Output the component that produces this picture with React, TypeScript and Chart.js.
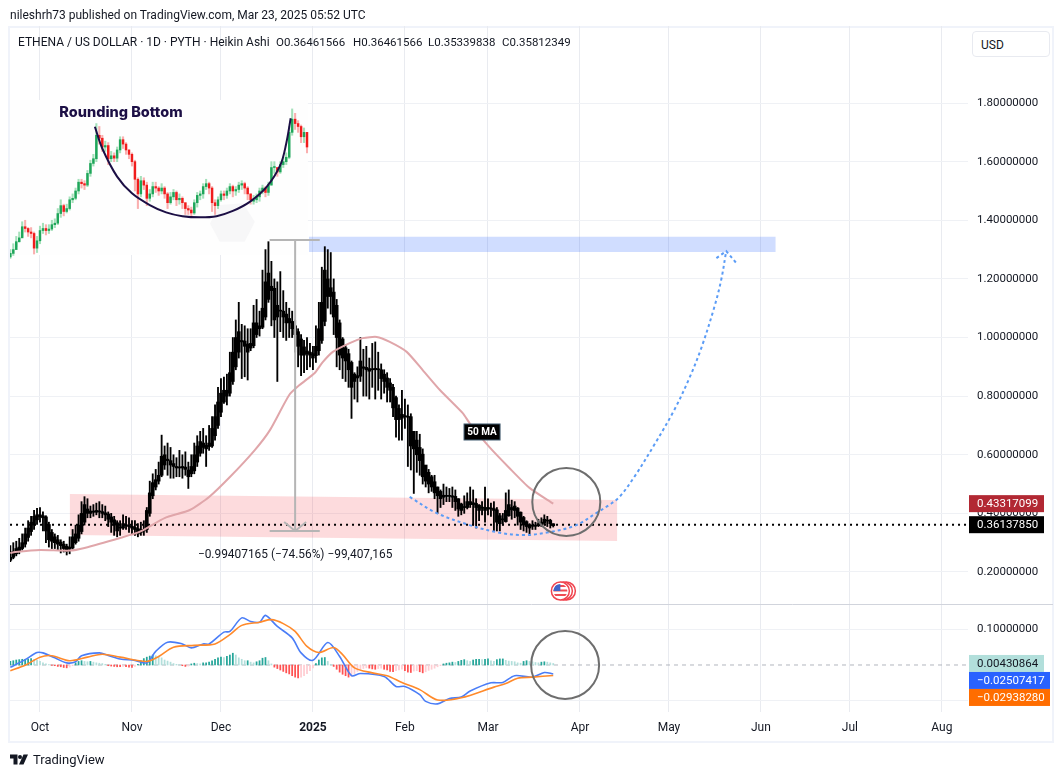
import { useEffect, useRef } from 'react';
import Chart from 'chart.js/auto';

// x values are days counted from 1 Oct 2024, the last candle is 23 Mar 2025
const monthDays = [0, 31, 61, 92, 123, 151, 182, 212, 243, 273, 304];
const monthLabels = ['Oct', 'Nov', 'Dec', '2025', 'Feb', 'Mar', 'Apr', 'May', 'Jun', 'Jul', 'Aug'];
const priceTicks = [0.2, 0.4, 0.6, 0.8, 1, 1.2, 1.4, 1.6, 1.8];
const macdTicks = [-0.1, 0.1];
const firstDay = -10;

const candleOpen = [
  .240, .250, .262, .272, .280, .295, .318, .338, .360, .378,
  .388, .392, .388, .362, .335, .320, .310, .302, .295, .288,
  .278, .282, .300, .315, .338, .370, .400, .408, .404, .404,
  .408, .406, .402, .398, .388, .378, .368, .352, .350, .358,
  .358, .356, .352, .348, .335, .340, .345, .400, .460, .490,
  .510, .530, .565, .580, .580, .570, .560, .555, .555, .558,
  .548, .535, .545, .575, .605, .625, .632, .628, .630, .665,
  .700, .745, .780, .800, .810, .850, .900, .950, .985, .988,
  .978, .964, .972, 1.010, 1.030, 1.035, 1.070, 1.130, 1.175, 1.168,
  1.110, 1.090, 1.090, 1.080, 1.065, 1.055, 1.040, 1.020, .995, .968,
  .954, .950, .945, .938, .955, .990, 1.055, 1.140, 1.170, 1.155,
  1.110, 1.050, .995, .965, .945, .915, .875, .862, .868, .895,
  .898, .894, .890, .890, .892, .890, .875, .862, .845, .830,
  .795, .758, .738, .730, .728, .730, .680, .650, .625, .602,
  .565, .540, .525, .508, .490, .475, .462, .458, .458, .460,
  .458, .450, .432, .422, .420, .430, .436, .434, .428, .418,
  .420, .415, .416, .416, .412, .392, .378, .372, .392, .412,
  .425, .418, .404, .386, .372, .362, .356, .356, .358, .362,
  .366, .374, .376, .3646,
];
const candleClose = [
  .250, .270, .280, .285, .300, .330, .350, .370, .390, .395,
  .395, .385, .340, .310, .305, .300, .295, .290, .280, .270,
  .285, .320, .330, .360, .400, .430, .415, .400, .405, .410,
  .405, .400, .395, .380, .370, .360, .340, .350, .365, .360,
  .355, .350, .345, .330, .345, .345, .410, .470, .505, .515,
  .530, .595, .600, .585, .565, .560, .555, .555, .560, .550,
  .525, .560, .600, .630, .645, .640, .620, .640, .690, .730,
  .780, .810, .820, .820, .880, .950, 1.000, 1.020, .990, .970,
  .950, .980, 1.050, 1.050, 1.040, 1.100, 1.190, 1.220, 1.160, 1.060,
  1.070, 1.090, 1.070, 1.050, 1.050, 1.030, 1.010, .970, .940, .940,
  .945, .940, .930, .970, 1.030, 1.120, 1.230, 1.200, 1.140, 1.070,
  1.000, .940, .930, .920, .890, .830, .850, .870, .920, .900,
  .890, .885, .890, .895, .890, .860, .850, .830, .820, .760,
  .720, .720, .725, .730, .730, .630, .620, .600, .580, .525,
  .510, .500, .490, .470, .460, .450, .455, .460, .460, .455,
  .440, .415, .410, .420, .440, .440, .430, .420, .410, .420,
  .410, .420, .415, .410, .370, .365, .380, .410, .430, .420,
  .410, .390, .370, .360, .355, .350, .360, .360, .365, .370,
  .380, .375, .365, .3581,
];
const candleHigh = [
  .290, .300, .305, .315, .330, .350, .375, .390, .410, .417,
  .420, .405, .392, .370, .345, .330, .325, .310, .305, .295,
  .320, .345, .360, .395, .440, .457, .450, .425, .430, .435,
  .440, .430, .425, .405, .400, .390, .375, .375, .395, .390,
  .385, .375, .375, .365, .370, .375, .420, .510, .535, .550,
  .575, .667, .630, .640, .625, .600, .590, .615, .600, .610,
  .575, .600, .640, .665, .680, .690, .665, .700, .730, .770,
  .830, .860, .865, .875, .950, 1.000, 1.060, 1.120, 1.045, 1.040,
  1.030, 1.030, 1.110, 1.130, 1.090, 1.230, 1.300, 1.327, 1.260, 1.200,
  1.190, 1.225, 1.160, 1.120, 1.100, 1.090, 1.060, 1.030, 1.010, .990,
  1.000, .980, .970, 1.040, 1.120, 1.240, 1.310, 1.300, 1.290, 1.200,
  1.130, 1.060, 1.000, .975, .960, .920, .880, .900, 1.000, .960,
  .970, .930, .980, .985, .950, .910, .890, .880, .860, .840,
  .800, .770, .820, .790, .770, .740, .680, .680, .670, .620,
  .560, .550, .530, .530, .490, .480, .500, .490, .485, .490,
  .480, .450, .435, .460, .470, .490, .480, .450, .430, .440,
  .490, .450, .435, .440, .420, .400, .400, .470, .480, .445,
  .440, .420, .405, .390, .375, .365, .375, .370, .380, .385,
  .395, .390, .380, .3646,
];
const candleLow = [
  .235, .245, .255, .262, .275, .285, .305, .325, .345, .362,
  .370, .340, .300, .285, .280, .280, .275, .265, .268, .258,
  .262, .278, .295, .305, .330, .360, .385, .385, .390, .395,
  .385, .385, .375, .355, .335, .325, .320, .325, .345, .345,
  .335, .330, .325, .320, .325, .325, .335, .390, .450, .480,
  .500, .525, .550, .530, .520, .520, .525, .525, .520, .530,
  .485, .525, .535, .560, .595, .605, .560, .615, .625, .650,
  .690, .730, .775, .770, .800, .840, .890, .930, .860, .866,
  .855, .955, .965, 1.000, 1.005, 1.030, 1.060, 1.120, 1.040, 1.000,
  .850, 1.020, 1.000, .990, 1.000, 1.000, .950, .900, .870, .880,
  .890, .900, .890, .915, .940, .980, 1.040, 1.100, 1.080, 1.010,
  .900, .890, .860, .850, .830, .724, .790, .780, .850, .800,
  .800, .790, .830, .790, .820, .790, .810, .780, .780, .730,
  .660, .650, .650, .690, .560, .548, .468, .540, .530, .500,
  .490, .470, .475, .450, .400, .420, .430, .440, .440, .420,
  .410, .390, .395, .400, .415, .420, .360, .350, .375, .395,
  .370, .395, .390, .340, .340, .340, .360, .370, .390, .380,
  .385, .360, .345, .340, .335, .325, .345, .345, .355, .355,
  .360, .355, .350, .3534,
];

const maDays = [-10, -8.4, 0, 10, 15, 27, 33.7, 42, 50.5, 57, 64, 72.4, 77.5, 84, 87.5, 92.6, 95.3, 98.7, 104.4, 108.8, 113.5, 117.9, 123.6, 129, 134.8, 142.5, 144.8, 151.5, 158.2, 165, 173];
const maValues = [.265, .268, .275, .273, .282, .316, .3375, .384, .4115, .456, .524, .616, .684, .804, .838, .879, .916, .951, .981, .998, 1.002, .985, .951, .889, .821, .742, .708, .626, .555, .487, .433];

const macdDays = [-10, -5, -1, 1, 5, 9, 12, 14, 20, 23, 27, 32, 36, 39, 43, 48, 51, 55, 57, 62, 64, 68, 71, 74, 76, 80, 85, 88, 92, 97, 101, 105, 108, 116, 120, 123, 128, 130, 134, 138, 142, 145, 152, 156, 160, 166, 170, 173];
const macdLine = [-.0065, .015, .035, .034, .02, .006, .009, .026, .034, .027, .017, .013, .006, .038, .064, .059, .048, .059, .059, .092, .094, .132, .122, .12, .139, .108, .076, .034, .013, .063, .024, -.03, -.024, -.032, -.06, -.06, -.083, -.102, -.109, -.094, -.09, -.073, -.05, -.049, -.03, -.034, -.021, -.0251];
const signalDays = [-10, -5, 0, 4, 10, 16, 21, 27, 36, 40, 45, 52, 59, 64, 68, 74, 78, 82, 86, 90, 94, 99, 102, 106, 112, 117, 122, 128, 134, 142, 153, 157, 161, 166, 173];
const signalLine = [-.016, -.001, .022, .026, .012, .022, .03, .022, .01, .024, .05, .055, .059, .085, .111, .12, .127, .116, .094, .052, .035, .049, .029, -.008, -.022, -.03, -.049, -.069, -.098, -.092, -.062, -.052, -.037, -.034, -.0294];
const macdHist = [
  .010, .012, .014, .015, .016, .016, .017, .018, .016, .014,
  .010, .006, .003, .001, -.001, -.002, -.004, -.005, -.007, -.008,
  -.006, -.002, .006, .010, .012, .010, .009, .010, .008, .006,
  .005, .004, .002, -.002, -.003, -.004, -.005, -.005, -.004, -.005,
  -.006, -.007, -.004, .002, .012, .018, .022, .025, .028, .026,
  .024, .020, .014, .011, .008, .004, .002, .001, -.002, -.004,
  -.003, .003, .005, .004, .003, .006, .006, .008, .012, .016,
  .020, .022, .021, .024, .028, .033, .028, .020, .016, .012,
  .012, .008, .006, .009, .012, .019, .021, .012, .003, -.006,
  -.010, -.014, -.018, -.022, -.025, -.030, -.034, -.036, -.034, -.030,
  -.024, -.016, -.008, .004, .014, .020, .021, .010, .002, -.004,
  -.012, -.020, -.026, -.030, -.034, -.032, -.024, -.018, -.012, -.010,
  -.008, -.009, -.011, -.012, -.010, -.009, -.012, -.014, -.018, -.019,
  -.016, -.014, -.012, -.016, -.020, -.021, -.017, -.016, -.019, -.022,
  -.019, -.015, -.012, -.009, -.005, -.002, .003, .005, .006, .008,
  .007, .010, .013, .015, .012, .010, .014, .016, .016, .015,
  .016, .017, .012, .010, .015, .017, .017, .013, .011, .010,
  .009, .006, .005, .010, .012, .010, .009, .007, .006, .008,
  .009, .008, .006, .0043,
];

// pasted "rounding bottom" picture, drawn on the same day axis
const insetClose = [
  1.287, 1.30, 1.327, 1.34, 1.378, 1.372, 1.36, 1.355, 1.305, 1.33,
  1.365, 1.372, 1.365, 1.37, 1.385, 1.39, 1.423, 1.45, 1.43, 1.44,
  1.47, 1.475, 1.50, 1.53, 1.525, 1.52, 1.56, 1.594, 1.61, 1.69,
  1.68, 1.65, 1.655, 1.61, 1.62, 1.612, 1.64, 1.675, 1.66, 1.64,
  1.625, 1.60, 1.54, 1.49, 1.535, 1.52, 1.475, 1.49, 1.515, 1.51,
  1.50, 1.51, 1.49, 1.46, 1.48, 1.495, 1.47, 1.475, 1.46, 1.44,
  1.435, 1.425, 1.46, 1.485, 1.49, 1.515, 1.525, 1.51, 1.46, 1.45,
  1.47, 1.49, 1.485, 1.50, 1.515, 1.50, 1.505, 1.52, 1.525, 1.51,
  1.49, 1.47, 1.47, 1.48, 1.50, 1.51, 1.495, 1.52, 1.58, 1.58,
  1.565, 1.59, 1.60, 1.615, 1.70, 1.745, 1.73, 1.72, 1.685, 1.70, 1.65,
];
const insetOpen = [
  1.275, 1.287, 1.30, 1.327, 1.34, 1.378, 1.372, 1.36, 1.355, 1.305,
  1.33, 1.365, 1.372, 1.365, 1.37, 1.385, 1.39, 1.423, 1.45, 1.43,
  1.44, 1.47, 1.475, 1.50, 1.53, 1.525, 1.52, 1.56, 1.594, 1.61,
  1.69, 1.68, 1.65, 1.655, 1.61, 1.62, 1.612, 1.64, 1.675, 1.66,
  1.64, 1.625, 1.60, 1.54, 1.49, 1.535, 1.52, 1.475, 1.49, 1.515,
  1.51, 1.50, 1.51, 1.49, 1.46, 1.48, 1.495, 1.47, 1.475, 1.46,
  1.44, 1.435, 1.425, 1.46, 1.485, 1.49, 1.515, 1.525, 1.51, 1.46,
  1.45, 1.47, 1.49, 1.485, 1.50, 1.515, 1.50, 1.505, 1.52, 1.525,
  1.51, 1.49, 1.465, 1.47, 1.48, 1.50, 1.51, 1.495, 1.52, 1.58,
  1.58, 1.565, 1.59, 1.60, 1.615, 1.70, 1.745, 1.73, 1.72, 1.685, 1.70,
];
const insetHigh = [
  1.30, 1.32, 1.345, 1.36, 1.395, 1.40, 1.375, 1.375, 1.36, 1.345,
  1.38, 1.39, 1.385, 1.385, 1.40, 1.405, 1.44, 1.47, 1.455, 1.455,
  1.48, 1.49, 1.51, 1.54, 1.54, 1.535, 1.57, 1.605, 1.625, 1.73,
  1.72, 1.69, 1.67, 1.665, 1.635, 1.63, 1.65, 1.685, 1.685, 1.665,
  1.64, 1.63, 1.605, 1.545, 1.55, 1.545, 1.53, 1.505, 1.53, 1.53,
  1.515, 1.525, 1.515, 1.495, 1.495, 1.505, 1.50, 1.49, 1.48, 1.46,
  1.45, 1.445, 1.47, 1.495, 1.50, 1.525, 1.54, 1.53, 1.515, 1.47,
  1.48, 1.50, 1.50, 1.51, 1.525, 1.52, 1.515, 1.53, 1.535, 1.53,
  1.515, 1.49, 1.485, 1.49, 1.51, 1.52, 1.515, 1.53, 1.60, 1.60,
  1.58, 1.60, 1.615, 1.63, 1.72, 1.78, 1.765, 1.74, 1.725, 1.715, 1.70,
];
const insetLow = [
  1.27, 1.28, 1.31, 1.325, 1.345, 1.36, 1.345, 1.34, 1.285, 1.29,
  1.32, 1.355, 1.35, 1.355, 1.365, 1.375, 1.385, 1.41, 1.415, 1.425,
  1.435, 1.46, 1.47, 1.49, 1.51, 1.505, 1.515, 1.55, 1.585, 1.60,
  1.66, 1.635, 1.635, 1.59, 1.60, 1.60, 1.60, 1.63, 1.645, 1.625,
  1.61, 1.585, 1.50, 1.44, 1.48, 1.505, 1.45, 1.465, 1.48, 1.495,
  1.485, 1.49, 1.475, 1.44, 1.455, 1.47, 1.45, 1.455, 1.44, 1.42,
  1.42, 1.41, 1.42, 1.445, 1.47, 1.475, 1.505, 1.49, 1.43, 1.42,
  1.44, 1.465, 1.47, 1.475, 1.49, 1.48, 1.485, 1.495, 1.505, 1.49,
  1.47, 1.455, 1.455, 1.46, 1.465, 1.49, 1.48, 1.485, 1.52, 1.56,
  1.55, 1.56, 1.58, 1.59, 1.61, 1.69, 1.71, 1.70, 1.665, 1.665, 1.63,
];
const arcDays = [18.5, 21, 26, 31, 37, 42.5, 48, 54, 59.5, 65, 70.7, 76.4, 81, 83, 84.5];
const arcValues = [1.719, 1.645, 1.549, 1.492, 1.452, 1.427, 1.414, 1.410, 1.414, 1.432, 1.463, 1.514, 1.588, 1.662, 1.748];
const hexDays = [57.3, 60.6, 68.4, 72.4, 69, 60.6, 57.3];
const hexValues = [1.389, 1.452, 1.458, 1.395, 1.327, 1.327, 1.389];

const curveDays = [124.6, 133.7, 144.8, 153.9, 162.6, 171.7, 180.8, 187.5, 191.9, 195.3, 200.3, 207, 213.8, 218.9, 222.9, 227.3, 229.6, 231.3];
const curveValues = [.456, .401, .360, .336, .326, .336, .360, .401, .429, .456, .524, .633, .753, .862, .964, 1.104, 1.196, 1.295];

const points = (xs: number[], ys: number[]) => xs.map((x, i) => ({ x, y: ys[i] }));
const dayOf = (i: number) => firstDay + i;
const TEXT = '#131722';
const UI_FONT = 'Roboto, sans-serif';

const lineSet = (xs: number[], ys: number[], color: string, width: number, order: number, extra: any = {}) => ({
  type: 'line',
  data: points(xs, ys),
  borderColor: color,
  borderWidth: width,
  pointRadius: 0,
  fill: false,
  order,
  ...extra,
});
const barSet = (lo: number[], hi: number[], color: any, thickness: number, order: number) => ({
  type: 'bar',
  data: lo.map((v, i) => ({ x: dayOf(i), y: [v, hi[i]] })),
  backgroundColor: color,
  barThickness: thickness,
  grouped: false,
  borderWidth: 0,
  minBarLength: 1,
  order,
});

const overlayPlugin = {
  id: 'overlay',
  beforeDraw(chart: any) {
    const { ctx } = chart;
    ctx.save();
    ctx.strokeStyle = '#f0f3fa';
    ctx.lineWidth = 2;
    ctx.strokeRect(9, 27, 1044, 715);
    ctx.restore();
  },
  afterDatasetsDraw(chart: any) {
    const { ctx, scales } = chart;
    const { x, y } = scales;
    ctx.save();
    // pane divider
    ctx.strokeStyle = '#d1d4dc';
    ctx.lineWidth = 1;
    ctx.beginPath();
    ctx.moveTo(10, 604.5);
    ctx.lineTo(1053, 604.5);
    ctx.stroke();

    ctx.textBaseline = 'middle';
    ctx.fillStyle = '#1c0f45';
    ctx.font = '800 14.5px Inter, sans-serif';
    ctx.textAlign = 'center';
    ctx.fillText('Rounding Bottom', x.getPixelForValue(27.3), y.getPixelForValue(1.766));

    ctx.fillStyle = TEXT;
    ctx.font = `11.9px ${UI_FONT}`;
    ctx.fillText('\u22120.99407165 (\u221274.56%) \u221299,407,165', x.getPixelForValue(86), y.getPixelForValue(0.2585));

    // 50 MA note
    const noteX = x.getPixelForValue(149);
    const noteY = y.getPixelForValue(0.6777);
    ctx.fillStyle = '#000';
    ctx.strokeStyle = '#3f5a6e';
    ctx.fillRect(noteX - 18, noteY - 8, 36, 16);
    ctx.strokeRect(noteX - 18, noteY - 8, 36, 16);
    ctx.fillStyle = '#fff';
    ctx.font = `bold 10px ${UI_FONT}`;
    ctx.fillText('50 MA', noteX, noteY + 0.5);

    // flag marker
    const fx = x.getPixelForValue(175.4);
    const fy = y.getPixelForValue(0.1352);
    ctx.lineWidth = 1.5;
    ctx.strokeStyle = '#f0444f';
    ctx.fillStyle = '#fff';
    [6, 3, 0].forEach(dx => {
      ctx.beginPath();
      ctx.arc(fx + dx, fy, 9, 0, Math.PI * 2);
      ctx.fill();
      ctx.stroke();
    });
    ctx.save();
    ctx.beginPath();
    ctx.arc(fx, fy, 7, 0, Math.PI * 2);
    ctx.clip();
    ctx.fillStyle = '#ef4a52';
    [-6, -1.5, 3].forEach(dy => ctx.fillRect(fx - 8, fy + dy, 16, 2));
    ctx.fillStyle = '#3e63c9';
    ctx.fillRect(fx - 8, fy - 8, 8, 8);
    ctx.restore();
    ctx.restore();
  },
  afterDraw(chart: any) {
    const { ctx, scales } = chart;
    const { y, macd } = scales;
    const teal = macd.getPixelForValue(0.0043);
    const tags = [
      { text: '0.43317099', top: y.getPixelForValue(0.4332) - 8.5, right: 1044, bg: '#b22833', fg: '#fff' },
      { text: '0.36137850', top: y.getPixelForValue(0.3614) - 8.5, right: 1044, bg: '#000', fg: '#fff' },
      { text: '0.00430864', top: teal - 8.5, right: 1044, bg: '#b2dfdb', fg: TEXT },
      { text: '\u22120.02507417', top: teal + 8.5, right: 1050, bg: '#2962ff', fg: '#fff' },
      { text: '\u22120.02938280', top: teal + 25.5, right: 1050, bg: '#ff6d00', fg: '#fff' },
    ];
    ctx.save();
    ctx.font = `11.5px ${UI_FONT}`;
    ctx.textAlign = 'left';
    ctx.textBaseline = 'middle';
    tags.forEach(t => {
      ctx.fillStyle = t.bg;
      ctx.fillRect(969, t.top, t.right - 969, 17);
      ctx.fillStyle = t.fg;
      ctx.fillText(t.text, 977, t.top + 9);
    });
    ctx.restore();
  },
};

export default function App() {
  const canvasRef = useRef<HTMLCanvasElement>(null);

  useEffect(() => {
    if (!canvasRef.current) return;
    const upDown = (lo: number[], hi: number[], up: string, down: string) =>
      (c: any) => (hi[c.dataIndex] >= lo[c.dataIndex] ? up : down);

    const chart = new Chart(canvasRef.current, {
      type: 'line',
      plugins: [overlayPlugin],
      data: {
        datasets: [
          // picture background and its faint hexagon
          lineSet([-10.1, 90.3], [1.81, 1.81], 'transparent', 0, 100, { fill: '+1', backgroundColor: '#fefefe' }),
          lineSet([-10.1, 90.3], [1.2816, 1.2816], 'transparent', 0, 100),
          lineSet(hexDays, hexValues, 'transparent', 0, 99, { fill: 'shape', backgroundColor: '#f7f7f8' }),
          // zones
          lineSet([90.6, 248], [1.344, 1.344], 'transparent', 0, 90, { fill: '+1', backgroundColor: 'rgba(41,98,255,0.22)' }),
          lineSet([90.6, 248], [1.292, 1.292], 'transparent', 0, 90),
          lineSet([10, 194.6], [.466, .4457], 'transparent', 0, 90, { fill: '+1', backgroundColor: 'rgba(242,54,69,0.18)' }),
          lineSet([10, 194.6], [.326, .3058], 'transparent', 0, 90),
          // picture candles
          barSet(insetLow, insetHigh, (c: any) => (insetClose[c.dataIndex] >= insetOpen[c.dataIndex] ? 'rgba(90,200,130,0.55)' : 'rgba(245,110,110,0.55)'), 1.4, 70),
          barSet(insetOpen, insetClose, upDown(insetOpen, insetClose, '#1fa65a', '#f01c1c'), 1.8, 69),
          lineSet(arcDays, arcValues, '#1c0f45', 2, 68, { tension: 0.35 }),
          // last price line
          lineSet([-10.1, 312.8], [.3614, .3614], '#000', 2, 60, { borderDash: [2, 4] }),
          // Heikin Ashi candles
          barSet(candleLow, candleHigh, '#000', 1.2, 50),
          barSet(candleOpen, candleClose, '#000', 3, 49),
          lineSet(maDays, maValues, '#e0a6aa', 2, 40, { tension: 0.2 }),
          lineSet(curveDays, curveValues, '#5b9cf6', 2, 30, { borderDash: [3, 3], tension: 0.35 }),
          lineSet([228, 231.3, 234.7], [1.271, 1.295, 1.254], '#5b9cf6', 2, 30, { borderDash: [3, 3] }),
          // measure tool
          lineSet([86, 86], [1.333, .34], '#b5b5b5', 2, 25),
          lineSet([77.4, 94.3], [1.333, 1.333], '#b5b5b5', 2, 25),
          lineSet([77.4, 94.3], [.34, .34], '#b5b5b5', 2, 25),
          lineSet([82.3, 86, 89.7], [.3706, .34, .3706], '#b5b5b5', 2, 25),
          // highlight circles
          lineSet([177.4], [.4388], '#6e6e6e', 2, 10, { showLine: false, pointRadius: 34, pointBorderColor: '#6e6e6e', pointBorderWidth: 2, pointBackgroundColor: 'transparent' }),
          lineSet([177], [0], '#6e6e6e', 2, 10, { yAxisID: 'macd', showLine: false, pointRadius: 34, pointBorderColor: '#6e6e6e', pointBorderWidth: 2, pointBackgroundColor: 'transparent' }),
          // MACD pane
          lineSet([-10.1, 312.8], [0, 0], '#b2b5be', 1, 60, { yAxisID: 'macd', borderDash: [4, 4] }),
          {
            type: 'bar',
            yAxisID: 'macd',
            data: macdHist.map((v, i) => ({ x: dayOf(i), y: v })),
            backgroundColor: (c: any) => {
              const v = macdHist[c.dataIndex];
              const prev = c.dataIndex > 0 ? macdHist[c.dataIndex - 1] : 0;
              if (v >= 0) return v >= prev ? '#26a69a' : '#b2dfdb';
              return v <= prev ? '#ff5252' : '#ffcdd2';
            },
            barThickness: 1.1,
            grouped: false,
            borderWidth: 0,
            order: 50,
          },
          lineSet(macdDays, macdLine, '#4a7df7', 1.6, 21, { yAxisID: 'macd', tension: 0.3 }),
          lineSet(signalDays, signalLine, '#ff8a2b', 1.6, 20, { yAxisID: 'macd', tension: 0.3 }),
        ] as any,
      },
      options: {
        animation: false,
        responsive: false,
        devicePixelRatio: 1,
        // the big circle points must not push the plot area inwards
        layout: { autoPadding: false, padding: { top: 26, left: 10, right: 10, bottom: 35 } },
        plugins: { legend: { display: false }, tooltip: { enabled: false }, title: { display: false } },
        scales: {
          x: {
            type: 'linear',
            min: -10.11,
            max: 312.8,
            offset: false,
            grid: { color: '#e9ebf0', drawTicks: false, offset: false },
            border: { display: false },
            afterBuildTicks: (s: any) => { s.ticks = monthDays.map(value => ({ value })); },
            afterFit: (s: any) => { s.height = 30; s.paddingLeft = 0; s.paddingRight = 0; },
            ticks: {
              autoSkip: false,
              maxRotation: 0,
              padding: 9,
              color: TEXT,
              font: (c: any) => ({ family: UI_FONT, size: 12, weight: monthLabels[c.index] === '2025' ? 'bold' : 'normal' }),
              callback: (_v: any, i: number) => monthLabels[i],
            },
          },
          y: {
            type: 'linear',
            position: 'right',
            stack: 'panes',
            stackWeight: 578,
            min: 0.0908,
            max: 2.0629,
            grid: { color: '#eff1f5', drawTicks: false },
            border: { display: false },
            afterBuildTicks: (s: any) => { s.ticks = priceTicks.map(value => ({ value })); },
            afterFit: (s: any) => { s.width = 86; s.paddingTop = 0; s.paddingBottom = 0; },
            ticks: {
              padding: 9,
              color: TEXT,
              font: { family: UI_FONT, size: 11.5 },
              callback: (v: any) => Number(v).toFixed(8),
            },
          },
          macd: {
            type: 'linear',
            position: 'right',
            stack: 'panes',
            stackWeight: 108,
            min: -0.1317,
            max: 0.1709,
            grid: { color: '#eff1f5', drawTicks: false },
            border: { display: false },
            afterBuildTicks: (s: any) => { s.ticks = macdTicks.map(value => ({ value })); },
            afterFit: (s: any) => { s.width = 86; s.paddingTop = 0; s.paddingBottom = 0; },
            ticks: {
              padding: 9,
              color: TEXT,
              font: { family: UI_FONT, size: 11.5 },
              callback: (v: any) => Number(v).toFixed(8).replace('-', '\u2212'),
            },
          },
        },
      } as any,
    });
    return () => chart.destroy();
  }, []);

  const text = (left: number, top: number, value: string, style: any = {}) => (
    <span style={{ position: 'absolute', left, top, font: `12px/16px ${UI_FONT}`, color: TEXT, whiteSpace: 'pre', ...style }}>{value}</span>
  );

  return (
    <div style={{ position: 'absolute', left: 0, top: 0, width: 1064, height: 777, overflow: 'hidden', background: '#fff' }}>
      <canvas ref={canvasRef} width={1064} height={777} style={{ position: 'absolute', left: 0, top: 0 }} />
      {text(10, 7, 'nileshrh73 published on TradingView.com, Mar 23, 2025 05:52 UTC')}
      {text(18, 34, 'ETHENA / US DOLLAR \u00b7 1D \u00b7 PYTH \u00b7 Heikin Ashi')}
      {text(276, 34, 'O0.36461566', { fontSize: 11.5 })}
      {text(353, 34, 'H0.36461566', { fontSize: 11.5 })}
      {text(428, 34, 'L0.35339838', { fontSize: 11.5 })}
      {text(502, 34, 'C0.35812349', { fontSize: 11.5 })}
      <div style={{ position: 'absolute', left: 972, top: 31, width: 76, height: 24, border: '1px solid #e8eaf0', borderRadius: 4, background: '#fff' }} />
      {text(981, 37, 'USD')}
      <svg width="18" height="11" viewBox="0 0 36 20" style={{ position: 'absolute', left: 10, top: 754 }}>
        <path d="M0 0h15v20H7V8H0zM36 0l-9 20h-9l9-20zM16 5a4 4 0 1 0 8 0a4 4 0 1 0-8 0z" fill="#131722" />
      </svg>
      {text(33, 752, 'TradingView', { fontSize: 13 })}
    </div>
  );
}
